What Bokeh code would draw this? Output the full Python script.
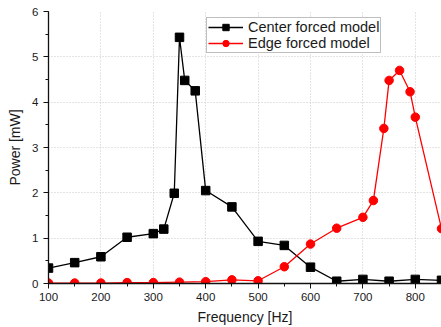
from bokeh.plotting import figure
from bokeh.models import SingleIntervalTicker, Legend, LegendItem, Range1d
from bokeh.embed import file_html
from bokeh.resources import INLINE

center_freq = [100, 150, 200, 250, 300, 320, 340, 350, 360, 380, 400, 450, 500, 550, 600, 650, 700, 750, 800, 850]
center_power = [0.34, 0.46, 0.59, 1.02, 1.10, 1.20, 1.99, 5.43, 4.48, 4.25, 2.05, 1.69, 0.93, 0.84, 0.36, 0.05, 0.09, 0.05, 0.09, 0.07]

edge_freq = [100, 150, 200, 250, 300, 350, 400, 450, 500, 550, 600, 650, 700, 720, 740, 750, 770, 790, 800, 850]
edge_power = [0.01, 0.01, 0.01, 0.02, 0.02, 0.03, 0.04, 0.08, 0.06, 0.37, 0.87, 1.22, 1.46, 1.83, 3.42, 4.48, 4.70, 4.23, 3.67, 1.21]

FONT = "Liberation Sans"

p = figure(width=441, height=327, output_backend="svg", toolbar_location=None,
           x_range=Range1d(100, 850), y_range=Range1d(0, 6),
           min_border_left=48, min_border_right=0, min_border_top=11, min_border_bottom=44)
p.outline_line_color = None
p.background_fill_color = "white"
p.border_fill_color = "white"

p.xaxis.ticker = SingleIntervalTicker(interval=100, num_minor_ticks=2)
p.yaxis.ticker = SingleIntervalTicker(interval=1, num_minor_ticks=2)

for ax in (p.xaxis[0], p.yaxis[0]):
    ax.axis_line_color = "#111111"
    ax.axis_line_width = 1.3
    ax.major_tick_line_color = "#111111"
    ax.minor_tick_line_color = "#111111"
    ax.major_tick_out = 5
    ax.major_tick_in = 0
    ax.minor_tick_out = 3
    ax.minor_tick_in = 0
    ax.major_label_text_font = FONT
    ax.major_label_text_font_size = "11.5px"
    ax.major_label_text_color = "#1a1a1a"
    ax.axis_label_text_font = FONT
    ax.axis_label_text_font_size = "14px"
    ax.axis_label_text_font_style = "normal"
    ax.axis_label_text_color = "#1a1a1a"

p.xaxis.axis_label = "Frequency [Hz]"
p.yaxis.axis_label = "Power [mW]"
p.xaxis.major_label_standoff = 4
p.yaxis.major_label_standoff = 5
p.xaxis.axis_label_standoff = 5
p.yaxis.axis_label_standoff = 6

for g in (p.xgrid[0], p.ygrid[0]):
    g.grid_line_color = "#c8c8c8"
    g.grid_line_dash = "1 2"
    g.grid_line_width = 1

cl = p.line(center_freq, center_power, line_color="black", line_width=1.3)
cm = p.scatter(center_freq, center_power, marker="square", size=8.5, fill_color="black", line_color="black")
el = p.line(edge_freq, edge_power, line_color="#ff0000", line_width=1.3)
em = p.scatter(edge_freq, edge_power, marker="circle", size=8.5, fill_color="#ff0000", line_color="#ff0000")

legend = Legend(items=[
    LegendItem(label="Center forced model", renderers=[cl, cm]),
    LegendItem(label="Edge forced model", renderers=[el, em]),
], location=(158, 230))
legend.padding = 1
legend.spacing = 0
legend.margin = 0
legend.label_height = 16
legend.glyph_height = 16
legend.glyph_width = 35
legend.label_standoff = 5
legend.label_text_font = FONT
legend.label_text_font_size = "14.5px"
legend.label_text_color = "#1a1a1a"
legend.border_line_color = "#808080"
legend.border_line_width = 1
legend.background_fill_alpha = 1
p.add_layout(legend, "center")

open("out.html", "w").write(file_html(p, INLINE))
